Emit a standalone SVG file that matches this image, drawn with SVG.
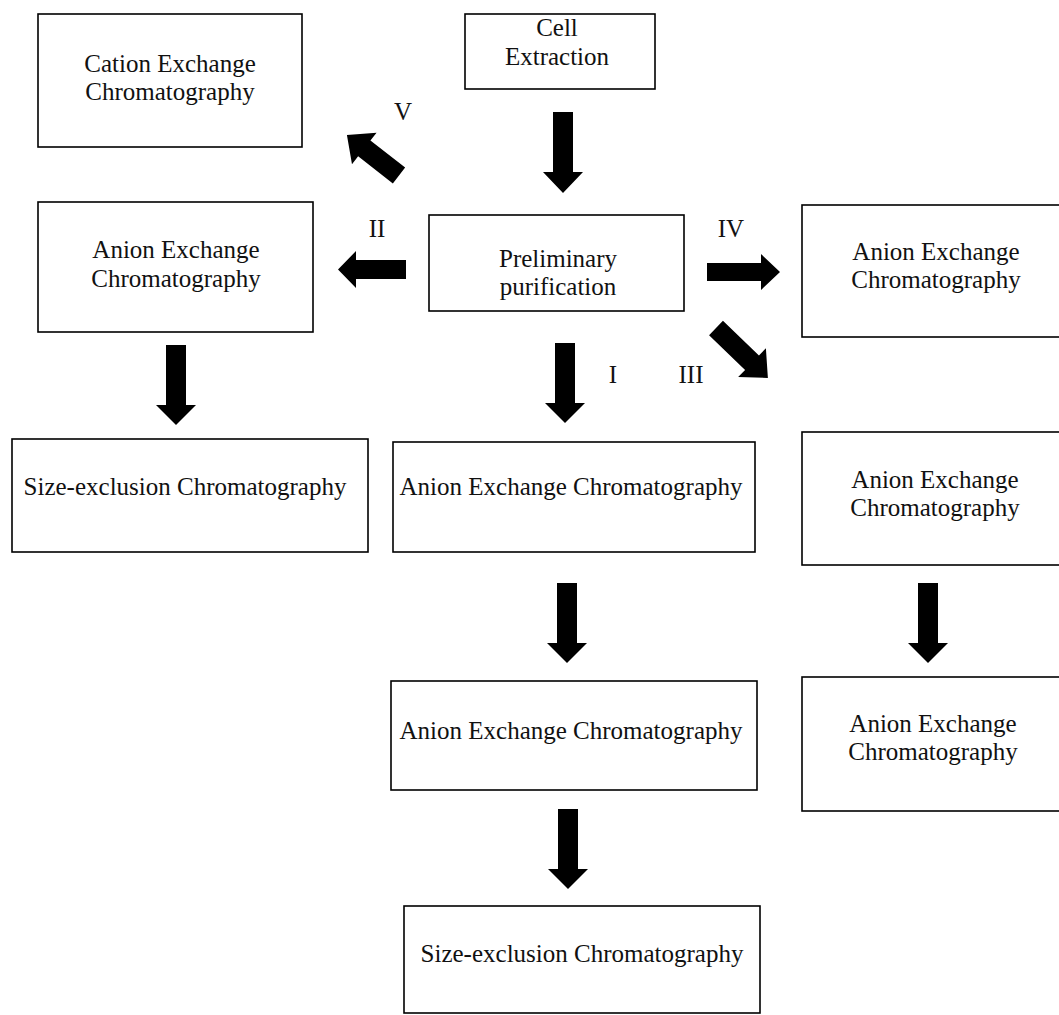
<svg xmlns="http://www.w3.org/2000/svg" width="1059" height="1015" viewBox="0 0 1059 1015" font-family="'Liberation Serif', 'Times New Roman', Times, 'DejaVu Serif', serif">
<style>
text{font-family:'Liberation Serif','Times New Roman',Times,'DejaVu Serif',serif;font-size:25px;fill:#111;text-anchor:middle}
.box{fill:#fff;stroke:#000;stroke-width:1.6}
.arr{fill:#000}
</style>
<rect width="1059" height="1015" fill="#fff"/>
<g id="n-cation"><rect class="box" x="38" y="14" width="264" height="133"/><text x="170" y="72">Cation Exchange</text><text x="170" y="100">Chromatography</text></g>
<g id="n-cell"><rect class="box" x="465" y="14" width="190" height="75"/><text x="557" y="36">Cell</text><text x="557" y="65">Extraction</text></g>
<g id="n-anion-ii"><rect class="box" x="38" y="202" width="275" height="130"/><text x="176" y="258">Anion Exchange</text><text x="176" y="287">Chromatography</text></g>
<g id="n-prelim"><rect class="box" x="429" y="215" width="255" height="96"/><text x="558" y="267">Preliminary</text><text x="558" y="295">purification</text></g>
<g id="n-anion-iv"><rect class="box" x="802" y="205" width="266" height="132"/><text x="936" y="260">Anion Exchange</text><text x="936" y="288">Chromatography</text></g>
<g id="n-size-left"><rect class="box" x="12" y="439" width="356" height="113"/><text x="185" y="495">Size-exclusion Chromatography</text></g>
<g id="n-anion-i1"><rect class="box" x="393" y="442" width="362" height="110"/><text x="571" y="495">Anion Exchange Chromatography</text></g>
<g id="n-anion-iii1"><rect class="box" x="802" y="432" width="266" height="133"/><text x="935" y="488">Anion Exchange</text><text x="935" y="516">Chromatography</text></g>
<g id="n-anion-i2"><rect class="box" x="391" y="681" width="366" height="109"/><text x="571" y="739">Anion Exchange Chromatography</text></g>
<g id="n-anion-iii2"><rect class="box" x="802" y="677" width="266" height="134"/><text x="933" y="732">Anion Exchange</text><text x="933" y="760">Chromatography</text></g>
<g id="n-size-bottom"><rect class="box" x="404" y="906" width="356" height="107"/><text x="582" y="962">Size-exclusion Chromatography</text></g>
<g id="connectors">
<polygon class="arr" points="553,112 573,112 573,172 583,172 563,193 543,172 553,172"/>
<polygon class="arr" transform="translate(399,175.5) rotate(-142.1)" points="0,-10 44,-10 44,-20 66,0 44,20 44,10 0,10"/>
<polygon class="arr" points="406,260 356,260 356,251 338,269.5 356,288 356,279 406,279"/>
<polygon class="arr" points="707,263 761,263 761,254 780,272 761,290 761,281 707,281"/>
<polygon class="arr" transform="translate(716,328) rotate(43.9)" points="0,-10 50,-10 50,-20 72,0 50,20 50,10 0,10"/>
<polygon class="arr" points="555,343 575,343 575,403 585,403 565,423 545,403 555,403"/>
<polygon class="arr" points="166,345 186,345 186,405 196,405 176,425 156,405 166,405"/>
<polygon class="arr" points="557,583 577,583 577,643 587,643 567,663 547,643 557,643"/>
<polygon class="arr" points="918,583 938,583 938,643 948,643 928,663 908,643 918,643"/>
<polygon class="arr" points="558,809 578,809 578,869 588,869 568,889 548,869 558,869"/>
<text x="403" y="120">V</text>
<text x="377" y="237">II</text>
<text x="731" y="237">IV</text>
<text x="613" y="383">I</text>
<text x="691" y="383">III</text>
</g>
</svg>
